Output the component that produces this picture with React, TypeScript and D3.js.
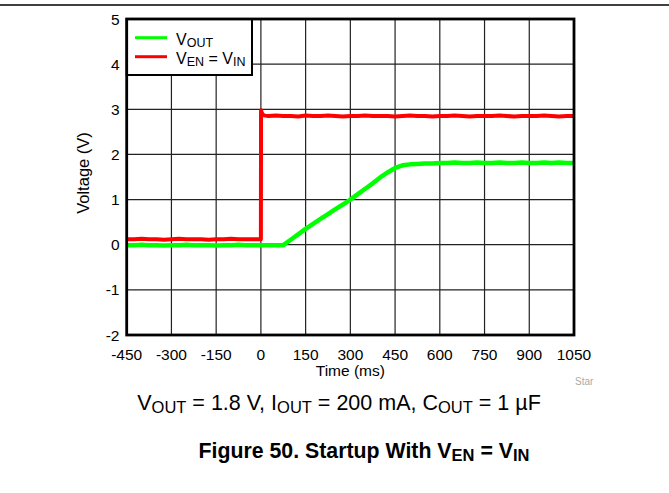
import React from "react";
import * as d3 from "d3";

const xTicks = [-450, -300, -150, 0, 150, 300, 450, 600, 750, 900, 1050];
const yTicks = [-2, -1, 0, 1, 2, 3, 4, 5];

const redTime = [
  -450, -425, -400, -375, -350, -325, -300, -275, -250, -225,
  -200, -175, -150, -125, -100, -75, -50, -25, 0,
  0.5, 3, 8, 15,
  25, 50, 75, 100, 125, 150, 175, 200, 225, 250,
  275, 300, 325, 350, 375, 400, 425, 450, 475, 500,
  525, 550, 575, 600, 625, 650, 675, 700, 725, 750,
  775, 800, 825, 850, 875, 900, 925, 950, 975, 1000,
  1025, 1050,
];
const redVolts = [
  0.12, 0.12, 0.13, 0.12, 0.12, 0.11, 0.12, 0.13, 0.12, 0.12,
  0.12, 0.11, 0.12, 0.12, 0.13, 0.12, 0.12, 0.12, 0.12,
  2.98, 2.92, 2.87, 2.86,
  2.85, 2.86, 2.85, 2.85, 2.84, 2.86, 2.85, 2.85, 2.86, 2.85,
  2.84, 2.85, 2.85, 2.86, 2.85, 2.85, 2.85, 2.84, 2.85, 2.86,
  2.85, 2.85, 2.84, 2.85, 2.85, 2.86, 2.85, 2.84, 2.85, 2.85,
  2.85, 2.86, 2.85, 2.84, 2.85, 2.85, 2.85, 2.86, 2.85, 2.84,
  2.85, 2.85,
];

const greenTime = [
  -450, -425, -400, -375, -350, -325, -300, -275, -250, -225,
  -200, -175, -150, -125, -100, -75, -50, -25, 0, 25,
  50, 75, 100, 125, 150, 175, 200, 225, 250, 275,
  300, 325, 350, 375, 400, 425, 450, 475, 500, 525,
  550, 575, 600, 625, 650, 675, 700, 725, 750, 775,
  800, 825, 850, 875, 900, 925, 950, 975, 1000, 1025,
  1050,
];
const greenVolts = [
  -0.01, -0.01, 0, -0.01, -0.01, -0.02, -0.01, -0.01, 0, -0.01,
  -0.01, -0.01, -0.02, -0.01, -0.01, 0, -0.01, -0.01, -0.01, -0.01,
  -0.01, -0.01, 0.11, 0.23, 0.35, 0.46, 0.57, 0.68, 0.79, 0.89,
  1.0, 1.12, 1.24, 1.36, 1.49, 1.6, 1.7, 1.76, 1.78, 1.79,
  1.8, 1.8, 1.81, 1.81, 1.82, 1.81, 1.81, 1.82, 1.81, 1.81,
  1.82, 1.81, 1.81, 1.82, 1.81, 1.81, 1.82, 1.81, 1.82, 1.81,
  1.81,
];

const FONT = "'Liberation Sans', Arial, Helvetica, sans-serif";

export default function App() {
  const W = 669;
  const H = 493;
  const left = 126.7;
  const right = 574;
  const top = 19;
  const bottom = 335;

  const x = d3.scaleLinear().domain([-450, 1050]).range([left, right]);
  const y = d3.scaleLinear().domain([-2, 5]).range([bottom, top]);

  const line = d3
    .line<[number, number]>()
    .x((d) => x(d[0]))
    .y((d) => y(d[1]));

  const redPts = redTime.map((t, i) => [t, redVolts[i]] as [number, number]);
  const greenPts = greenTime.map((t, i) => [t, greenVolts[i]] as [number, number]);

  const RED = "#ff0000";
  const GREEN = "#00ff00";

  return (
    <svg
      width={W}
      height={H}
      style={{ position: "absolute", left: 0, top: 0, background: "#fff" }}
      fontFamily={FONT}
    >
      <defs>
        <clipPath id="plotClip">
          <rect x={left} y={top} width={right - left} height={bottom - top} />
        </clipPath>
      </defs>
      <rect x={0} y={0} width={W} height={H} fill="#fff" />
      <line x1={0} x2={W} y1={5} y2={5} stroke="#000" strokeWidth={1.5} />

      {/* grid */}
      {xTicks.map((t) => (
        <line key={"gx" + t} x1={x(t)} x2={x(t)} y1={top} y2={bottom} stroke="#222" strokeWidth={1.2} />
      ))}
      {yTicks.map((t) => (
        <line key={"gy" + t} x1={left} x2={right} y1={y(t)} y2={y(t)} stroke="#222" strokeWidth={1.2} />
      ))}

      {/* data */}
      <g clipPath="url(#plotClip)">
        <path d={line(redPts) || ""} fill="none" stroke={RED} strokeWidth={4} strokeLinejoin="round" />
        <path d={line(greenPts) || ""} fill="none" stroke={GREEN} strokeWidth={4.5} strokeLinejoin="round" />
      </g>

      {/* legend */}
      <rect x={left} y={top} width={252 - left} height={75 - top} fill="#fff" stroke="#000" strokeWidth={2} />
      <line x1={135} x2={167} y1={37.7} y2={37.7} stroke={GREEN} strokeWidth={3} />
      <line x1={135} x2={167} y1={56.7} y2={56.7} stroke={RED} strokeWidth={3} />
      <text x={176} y={45} fontSize={16} fill="#000">
        V<tspan fontSize={12.5} dy={2}>OUT</tspan>
      </text>
      <text x={176} y={63.5} fontSize={16} fill="#000">
        V<tspan fontSize={12.5} dy={2}>EN</tspan>
        <tspan dy={-2}> = V</tspan>
        <tspan fontSize={12.5} dy={2}>IN</tspan>
      </text>

      {/* frame */}
      <rect x={left} y={top} width={right - left} height={bottom - top} fill="none" stroke="#000" strokeWidth={2.8} />

      {/* tick labels */}
      {xTicks.map((t) => (
        <text key={"tx" + t} x={x(t)} y={360} fontSize={15.5} textAnchor="middle" fill="#000">
          {t}
        </text>
      ))}
      {yTicks.map((t) => (
        <text key={"ty" + t} x={119.5} y={y(t)} dy="0.36em" fontSize={15.5} textAnchor="end" fill="#000">
          {t}
        </text>
      ))}

      <text x={(left + right) / 2} y={376} fontSize={15.5} textAnchor="middle" fill="#000">
        Time (ms)
      </text>
      <text
        transform={`translate(89, ${(top + bottom) / 2 - 4}) rotate(-90)`}
        fontSize={16.5}
        textAnchor="middle"
        fill="#000"
      >
        Voltage (V)
      </text>

      <text x={575} y={384.5} fontSize={10} fill="#aaaaaa">
        Star
      </text>

      <text x={339} y={409.5} fontSize={21.5} textAnchor="middle" fill="#000">
        V<tspan fontSize={16.5} dy={3}>OUT</tspan>
        <tspan dy={-3}> = 1.8 V, I</tspan>
        <tspan fontSize={16.5} dy={3}>OUT</tspan>
        <tspan dy={-3}> = 200 mA, C</tspan>
        <tspan fontSize={16.5} dy={3}>OUT</tspan>
        <tspan dy={-3}> = 1 µF</tspan>
      </text>

      <text x={364} y={457.5} fontSize={21.3} fontWeight="bold" textAnchor="middle" fill="#000">
        Figure 50. Startup With V<tspan fontSize={16.5} dy={3}>EN</tspan>
        <tspan dy={-3}> = V</tspan>
        <tspan fontSize={16.5} dy={3}>IN</tspan>
      </text>
    </svg>
  );
}
